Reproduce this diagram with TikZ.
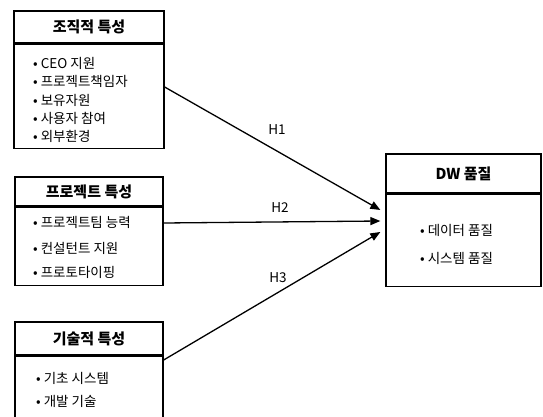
\documentclass[tikz,border=0pt]{standalone}
\usepackage{fontspec}
\setmainfont{Noto Sans CJK KR}
\usetikzlibrary{arrows.meta}
\tikzset{
  boxline/.style={draw=black, line width=1.3pt},
  hdr/.style={boxline, inner sep=0pt, font=\fontsize{15}{17}\selectfont\bfseries},
  bodybox/.style={boxline, inner sep=0pt},
  item/.style={anchor=west, inner sep=0pt, font=\fontsize{13.5}{15}\selectfont},
  hlabel/.style={inner sep=0pt, font=\fontsize{13.5}{15}\selectfont},
  conn/.style={line width=1.3pt, -{Triangle[length=10pt,width=8pt]}}
}
\begin{document}
\begin{tikzpicture}[x=1pt,y=-1pt]
\useasboundingbox (0,0) rectangle (543,417);
\clip (0,0) rectangle (543,417);
% box 1
\node[hdr, minimum width=150, minimum height=32] (h1) at (89,27) {조직적 특성};
\node[bodybox, minimum width=150, minimum height=104, anchor=north] (p1) at (h1.south) {};
\node[item] (i11) at (33,63) {• CEO 지원};
\node[item] (i12) at (33,81.5) {• 프로젝트책임자};
\node[item] (i13) at (33,100) {• 보유자원};
\node[item] (i14) at (33,118) {• 사용자 참여};
\node[item] (i15) at (33,136.5) {• 외부환경};
% box 2
\node[hdr, minimum width=148, minimum height=29] (h2) at (89,191.5) {프로젝트 특성};
\node[bodybox, minimum width=148, minimum height=78, anchor=north] (p2) at (h2.south) {};
\node[item] (i21) at (33,222) {• 프로젝트팀 능력};
\node[item] (i22) at (33,248) {• 컨설턴트 지원};
\node[item] (i23) at (33,272.5) {• 프로토타이핑};
% box 3
\node[hdr, minimum width=148, minimum height=33] (h3) at (89,338.5) {기술적 특성};
\node[bodybox, minimum width=148, minimum height=80, anchor=north] (p3) at (h3.south) {};
\node[item] (i31) at (36,378) {• 기초 시스템};
\node[item] (i32) at (36,401) {• 개발 기술};
% box 4
\node[hdr, minimum width=155, minimum height=39] (h4) at (463.5,173.5) {DW 품질};
\node[bodybox, minimum width=155, minimum height=92, anchor=north] (p4) at (h4.south) {};
\node[item] (i41) at (420,230) {• 데이터 품질};
\node[item] (i42) at (420,258) {• 시스템 품질};
% arrow ends
\coordinate (s1) at (p1.east |- 0,87);
\coordinate (s2) at (p2.east |- 0,223);
\coordinate (s3) at (p3.east |- 0,360);
\coordinate (e1) at ([xshift=-5pt]p4.west |- 0,210);
\coordinate (e2) at ([xshift=-5pt]p4.west |- 0,221);
\coordinate (e3) at ([xshift=-5pt]p4.west |- 0,232);
\draw[conn] (s1) -- (e1);
\draw[conn] (s2) -- (e2);
\draw[conn] (s3) -- (e3);
\node[hlabel] (l1) at (277,130) {H1};
\node[hlabel] (l2) at (280,208) {H2};
\node[hlabel] (l3) at (278,278) {H3};
\end{tikzpicture}
\end{document}
